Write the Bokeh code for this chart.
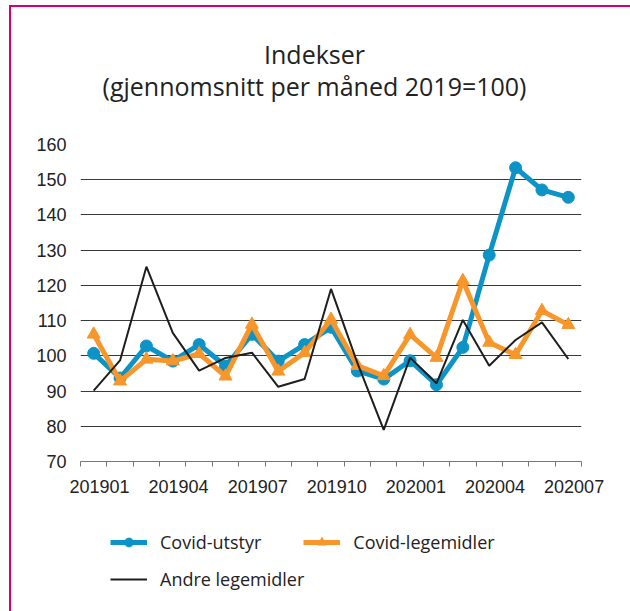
from bokeh.plotting import figure
from bokeh.models import FixedTicker, Legend, LegendItem, Range1d
from bokeh.core.properties import value
from bokeh.layouts import column
from bokeh.embed import file_html
from bokeh.resources import INLINE

months = ["201901", "201902", "201903", "201904", "201905", "201906", "201907",
          "201908", "201909", "201910", "201911", "201912", "202001", "202002",
          "202003", "202004", "202005", "202006", "202007"]
covid_utstyr = [100.7, 93.7, 102.8, 98.5, 103.2, 97.1, 106.1, 98.5, 103.2, 108.1,
                95.7, 93.4, 98.6, 91.8, 102.4, 128.6, 153.4, 147.1, 145.0]
covid_legemidler = [106.1, 92.8, 99.0, 98.5, 100.6, 94.2, 108.9, 95.6, 100.9, 110.3,
                    97.2, 94.3, 106.0, 99.5, 121.3, 103.8, 100.3, 112.8, 108.8]
andre_legemidler = [90.1, 98.7, 125.3, 106.5, 95.8, 99.4, 100.9, 91.2, 93.4, 119.0,
                    98.0, 79.0, 99.5, 92.2, 110.2, 97.2, 104.5, 109.5, 99.1]
y_ticks = [70, 80, 90, 100, 110, 120, 130, 140, 150, 160]
x_label_every = 3
series_names = ["Covid-utstyr", "Covid-legemidler", "Andre legemidler"]
title_lines = ["Indekser", "(gjennomsnitt per måned 2019=100)"]

xs = list(range(len(months)))
label_shift = 0.22

blue = "#0d93c6"
orange = "#f7962b"
black = "#1e1e1e"
pink = "#d4006e"
text_col = "#222222"

W = 619
BL, BR = 69, 49

# ---------- title figure ----------
TH = 113
t = figure(width=W, height=TH, output_backend="svg", toolbar_location=None,
           x_axis_location=None, y_axis_location=None,
           x_range=Range1d(0, W - BL - BR), y_range=Range1d(0, TH),
           min_border_left=BL, min_border_right=BR, min_border_top=0, min_border_bottom=0)
t.title = None
t.grid.visible = False
t.outline_line_color = None
t.text(x=[234, 234], y=[67, 35], text=title_lines, text_align="center",
       text_baseline="alphabetic", text_font=value("Open Sans"), text_font_size="25px",
       text_color=text_col)

# ---------- main chart ----------
p = figure(width=W, height=390, output_backend="svg", toolbar_location=None,
           x_range=(-0.5, len(months) - 0.5), y_range=(70, 160),
           min_border_left=BL, min_border_right=BR, min_border_top=24,
           min_border_bottom=49)
p.title = None
p.outline_line_color = None
p.border_fill_color = "white"

p.yaxis.ticker = FixedTicker(ticks=y_ticks)
p.yaxis.axis_line_color = None
p.yaxis.major_tick_line_color = None
p.yaxis.major_tick_out = 0
p.yaxis.minor_tick_line_color = None
p.yaxis.major_label_standoff = 14
p.yaxis.major_label_text_font = "Liberation Sans"
p.yaxis.major_label_text_font_size = "18px"
p.yaxis.major_label_text_color = text_col

label_idx = xs[::x_label_every]
label_pos = [i + label_shift for i in label_idx]
p.xaxis.ticker = FixedTicker(ticks=label_pos,
                             minor_ticks=[i - 0.5 for i in range(len(months) + 1)])
p.xaxis.major_label_overrides = {pos: months[i] for pos, i in zip(label_pos, label_idx)}
p.xaxis.major_tick_line_color = None
p.xaxis.major_tick_out = 0
p.xaxis.major_tick_in = 0
p.xaxis.minor_tick_out = 5
p.xaxis.minor_tick_in = 0
p.xaxis.minor_tick_line_color = "#777777"
p.xaxis.axis_line_color = "#777777"
p.xaxis.major_label_standoff = 13
p.xaxis.major_label_text_font = "Liberation Sans"
p.xaxis.major_label_text_font_size = "18px"
p.xaxis.major_label_text_color = text_col

p.xgrid.grid_line_color = None
p.ygrid.ticker = FixedTicker(ticks=y_ticks[1:])
p.ygrid.grid_line_color = "#3a3a3a"
p.ygrid.grid_line_width = 1

p.line(xs, covid_utstyr, line_color=blue, line_width=5)
p.scatter(xs, covid_utstyr, marker="circle", size=12, fill_color=blue, line_color=blue)
p.line(xs, covid_legemidler, line_color=orange, line_width=5)
p.scatter(xs, covid_legemidler, marker="triangle", size=13, fill_color=orange,
          line_color=orange)
p.line(xs, andre_legemidler, line_color=black, line_width=2)

# ---------- legend figure ----------
q = figure(width=W, height=101, output_backend="svg", toolbar_location=None,
           x_axis_location=None, y_axis_location=None,
           x_range=Range1d(1000, 1001), y_range=Range1d(1000, 1001),
           min_border_left=BL, min_border_right=BR, min_border_top=0, min_border_bottom=0)
q.title = None
q.grid.visible = False
q.outline_line_color = None
# same series drawn outside the visible range: only their legend glyphs show
ql1 = q.line(xs, covid_utstyr, line_color=blue, line_width=5)
qm1 = q.scatter(xs, covid_utstyr, marker="circle", size=9, fill_color=blue, line_color=blue)
ql2 = q.line(xs, covid_legemidler, line_color=orange, line_width=5)
qm2 = q.scatter(xs, covid_legemidler, marker="triangle", size=10, fill_color=orange,
                line_color=orange)
ql3 = q.line(xs, andre_legemidler, line_color=black, line_width=2)

legend_style = dict(border_line_color=None, background_fill_alpha=0, padding=0, margin=0,
                    glyph_width=37, glyph_height=22, label_standoff=13,
                    label_text_font="Open Sans", label_text_font_size="18px",
                    label_text_color=text_col)
legend1 = Legend(items=[
    LegendItem(label=series_names[0], renderers=[ql1, qm1]),
    LegendItem(label=series_names[1], renderers=[ql2, qm2]),
], orientation="horizontal", location=(30, 57), spacing=42, **legend_style)
legend2 = Legend(items=[
    LegendItem(label=series_names[2], renderers=[ql3]),
], orientation="horizontal", location=(30, 20), spacing=0, **legend_style)
q.add_layout(legend1, "center")
q.add_layout(legend2, "center")

layout = column(t, p, q, spacing=0,
                styles={"border-left": f"2px solid {pink}", "border-top": f"2px solid {pink}",
                        "margin-left": "9px", "margin-top": "5px"})

open("out.html", "w").write(file_html(layout, INLINE))
